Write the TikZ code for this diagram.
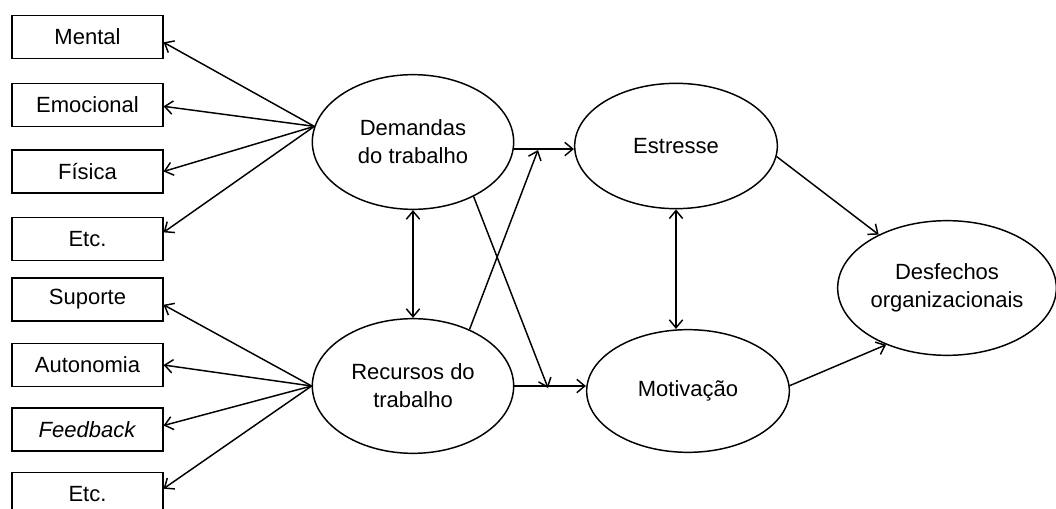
\documentclass[tikz,border=0pt]{standalone}
\usepackage{fontspec}
\setmainfont{Liberation Sans}
\usetikzlibrary{arrows.meta,shapes.geometric}

\begin{document}
\begin{tikzpicture}[x=0.75pt,y=-0.75pt,
    font=\fontsize{16.5}{21}\selectfont,
    fator/.style={draw,line width=1.1pt,minimum width=113pt,minimum height=32pt,inner sep=0pt},
    constr/.style={draw,line width=1.1pt,ellipse,inner sep=0pt,align=center},
    seta/.style={line width=1.1pt,-{Straight Barb[length=6pt,width=10pt]}},
    dupla/.style={line width=1.1pt,{Straight Barb[length=6pt,width=10pt]}-{Straight Barb[length=6pt,width=10pt]}}]
    \useasboundingbox (0,0) rectangle (1056,509);
    \node[fator] (mental) at (87.5,37) {Mental};
    \node[fator] (emoc) at (87.5,105) {Emocional};
    \node[fator] (fis) at (87.5,171.5) {Física};
    \node[fator] (etcA) at (87.5,239) {Etc.};
    \node[fator] (sup) at (87.5,299.5) {Suporte};
    \node[fator] (auto) at (87.5,365) {Autonomia};
    \node[fator] (feed) at (87.5,429.5) {\textit{Feedback}};
    \node[fator] (etcB) at (87.5,494) {Etc.};
    \node[constr,minimum width=151pt,minimum height=101pt] (dem) at (413,142) {Demandas\\do trabalho};
    \node[constr,minimum width=151pt,minimum height=101pt] (rec) at (413,386) {Recursos do\\trabalho};
    \node[constr,minimum width=152pt,minimum height=94pt] (est) at (676,146) {Estresse};
    \node[constr,minimum width=152pt,minimum height=92pt] (mot) at (688,391) {Motivação};
    \node[constr,minimum width=164pt,minimum height=101pt] (desf) at (947,288) {Desfechos\\organizacionais};
    \coordinate (tipE) at (538,150);
    \coordinate (tipM) at (548,388);
    \draw[seta] (dem.171) to (mental.-4);
    \draw[seta] (dem.171) to (emoc.-1.5);
    \draw[seta] (dem.171) to (fis.east);
    \draw[seta] (dem.171) to (etcA.5);
    \draw[seta] (rec.west) to (sup.-4);
    \draw[seta] (rec.west) to (auto.east);
    \draw[seta] (rec.west) to (feed.3.5);
    \draw[seta] (rec.west) to (etcB.4.5);
    \draw[dupla] (dem.south) to (rec.north);
    \draw[dupla] (est.south) to (est.south |- mot.north);
    \draw[seta] (dem.-4) to (dem.-4 -| est.west);
    \draw[seta] (rec.east) to (rec.east -| mot.west);
    \draw[seta] (rec.45) to (tipE);
    \draw[seta] (dem.-42) to (tipM);
    \draw[seta] (est.-6) to (desf.142);
    \draw[seta] (mot.3) to (desf.223);
\end{tikzpicture}
\end{document}
